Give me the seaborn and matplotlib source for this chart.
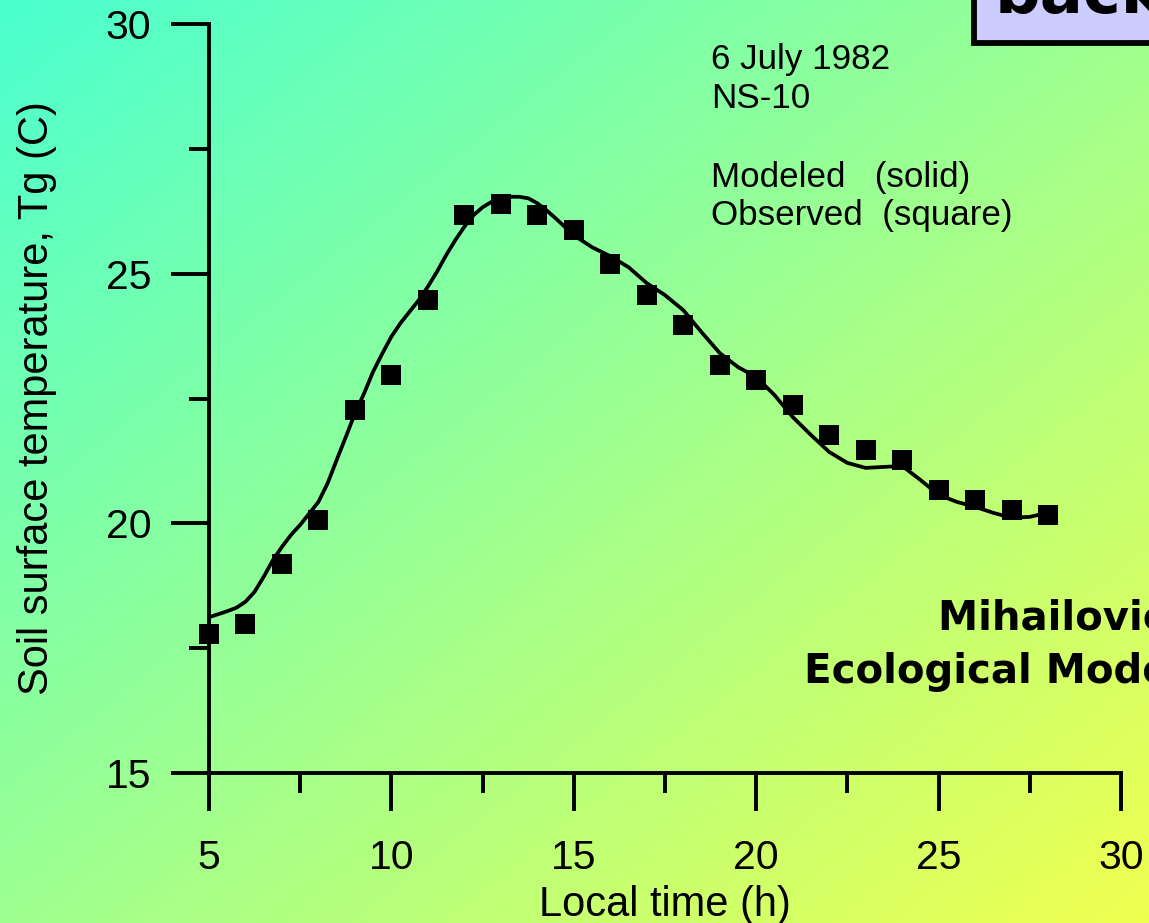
import numpy as np
import pandas as pd
import matplotlib
matplotlib.use("Agg")
import matplotlib.pyplot as plt
from matplotlib.patches import Rectangle
from matplotlib.ticker import MultipleLocator
import seaborn as sns

# ---- data ----
obs_hours = [5, 6, 7, 8, 9, 10, 11, 12, 13, 14, 15, 16, 17, 18, 19, 20,
             21, 22, 23, 24, 25, 26, 27, 28]
obs_temp = [17.78, 17.98, 19.19, 20.07, 22.27, 22.97, 24.47, 26.17, 26.39,
            26.17, 25.87, 25.19, 24.57, 23.97, 23.17, 22.87, 22.37, 21.77,
            21.47, 21.27, 20.67, 20.47, 20.27, 20.17]

model_hours = [5.0, 5.25, 5.5, 5.75, 6.0, 6.25, 6.5, 6.75, 7.0, 7.25, 7.5,
               7.75, 8.0, 8.25, 8.5, 8.75, 9.0, 9.25, 9.5, 9.75, 10.0, 10.25,
               10.5, 10.75, 11.0, 11.25, 11.5, 11.75, 12.0, 12.25, 12.5,
               12.75, 13.0, 13.25, 13.5, 13.75, 14.0, 14.25, 14.5, 15.0,
               15.5, 16.0, 16.5, 17.0, 17.5, 18.0, 18.5, 19.0, 19.5, 20.0,
               20.5, 21.0, 21.5, 22.0, 22.5, 23.0, 23.5, 24.0, 24.5, 25.0,
               25.5, 26.0, 26.5, 27.0, 27.5, 27.8]
model_temp = [18.12, 18.18, 18.24, 18.31, 18.43, 18.63, 18.93, 19.26, 19.53,
              19.77, 19.97, 20.20, 20.43, 20.80, 21.27, 21.73, 22.20, 22.60,
              23.04, 23.40, 23.74, 24.01, 24.24, 24.47, 24.74, 25.04, 25.37,
              25.67, 25.94, 26.17, 26.33, 26.44, 26.51, 26.54, 26.54, 26.51,
              26.41, 26.27, 26.11, 25.77, 25.53, 25.35, 25.13, 24.81, 24.57,
              24.27, 23.83, 23.41, 23.13, 22.93, 22.57, 22.13, 21.77, 21.43,
              21.21, 21.11, 21.13, 21.15, 20.87, 20.57, 20.43, 20.33, 20.21,
              20.11, 20.13, 20.18]

x_ticks = [5, 10, 15, 20, 25, 30]
y_ticks = [15, 20, 25, 30]
x_label = "Local time (h)"
y_label = "Soil surface temperature, Tg (C)"
note_lines = ["6 July 1982", "NS-10", "Modeled   (solid)", "Observed  (square)"]

sns.set_style("ticks")
plt.rcParams['font.family'] = ['Liberation Sans', 'DejaVu Sans']
plt.rcParams['text.color'] = 'black'
plt.rcParams['axes.labelcolor'] = 'black'

W, H = 1149, 923
fig = plt.figure(figsize=(W / 100, H / 100), dpi=100)

# gradient background
bg = fig.add_axes([0, 0, 1, 1], zorder=-10)
gx = np.linspace(0, 1, 300)
gy = np.linspace(0, 1, 240)
GX, GY = np.meshgrid(gx, gy)
t = (GX + GY) / 2.0
c0 = np.array([75, 255, 208]) / 255.0
c1 = np.array([240, 255, 80]) / 255.0
img = c0[None, None, :] * (1 - t[..., None]) + c1[None, None, :] * t[..., None]
bg.imshow(img, aspect='auto', extent=[0, 1, 0, 1], origin='upper', interpolation='bilinear')
bg.set_axis_off()

ax = fig.add_axes([209 / W, 1 - 773 / H, 912 / W, 749 / H])
ax.patch.set_alpha(0)

model_df = pd.DataFrame({"hour": model_hours, "temp": model_temp})
obs_df = pd.DataFrame({"hour": obs_hours, "temp": obs_temp})

sns.lineplot(data=model_df, x="hour", y="temp", color="black", linewidth=2.7,
             ax=ax, sort=False, zorder=2)
sns.scatterplot(data=obs_df, x="hour", y="temp", marker="s", s=210,
                color="black", linewidth=0, ax=ax, clip_on=False, zorder=3)

ax.set_xlim(5, 30)
ax.set_ylim(15, 30)
ax.set_xticks(x_ticks)
ax.set_yticks(y_ticks)
ax.xaxis.set_minor_locator(MultipleLocator(2.5))
ax.yaxis.set_minor_locator(MultipleLocator(2.5))

for side in ["top", "right"]:
    ax.spines[side].set_visible(False)
for side in ["left", "bottom"]:
    ax.spines[side].set_linewidth(2.8)
    ax.spines[side].set_color("black")

ax.tick_params(axis='both', which='major', direction='out', length=27.5,
               width=2.8, color='black', labelsize=29.5, labelcolor='black')
ax.tick_params(axis='both', which='minor', direction='out', length=14.5,
               width=2.8, color='black')
ax.tick_params(axis='x', which='major', pad=20)
ax.tick_params(axis='y', which='major', pad=14)

ax.set_xlabel(x_label, fontsize=30, color='black')
ax.set_ylabel(y_label, fontsize=30, color='black')
ax.xaxis.set_label_coords(0.5, -0.149)
ax.yaxis.set_label_coords(-0.167, 0.5)

# notes
baselines = [69, 108, 187, 225]
for txt, b in zip(note_lines, baselines):
    fig.text(711 / W, 1 - b / H, txt, fontsize=25.2, va='baseline', ha='left',
             color='black')

# citation (cut off by figure edge)
fig.text(938 / W, 1 - 630 / H, "Mihailovic et al.", fontsize=29,
         fontweight='bold', family=['DejaVu Sans'], va='baseline', ha='left',
         color='black')
fig.text(804 / W, 1 - 683 / H, "Ecological Modelling", fontsize=29,
         fontweight='bold', family=['DejaVu Sans'], va='baseline', ha='left',
         color='black')

# top-right box (cut off)
fig.patches.append(Rectangle((974 / W, 1 - 43 / H), 0.3, 0.2,
                             transform=fig.transFigure, facecolor='#ccccff',
                             edgecolor='black', linewidth=4.2, zorder=1))
fig.text(995 / W, 1 - 13 / H, "background", fontsize=46, fontweight='bold',
         family=['DejaVu Sans'], va='baseline', ha='left', zorder=2,
         color='black')

fig.savefig("out.png", dpi=100)
